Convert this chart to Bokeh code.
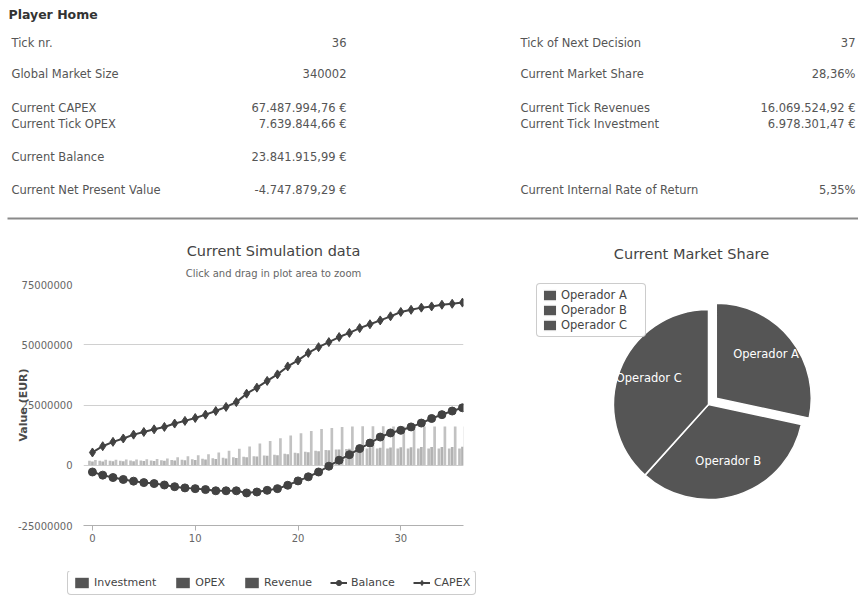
import math
from bokeh.plotting import figure
from bokeh.layouts import column, row
from bokeh.models import (Range1d, FixedTicker, NumeralTickFormatter, Legend, LegendItem,
                          Title, ColumnDataSource)
from bokeh.transform import dodge
from bokeh.core.properties import value
from bokeh.embed import file_html
from bokeh.resources import INLINE

FONT = "DejaVu Sans"
NAN = float("nan")

# ---------------- data ----------------
page_title = "Player Home"
left_labels = ["Tick nr.", "Global Market Size", "Current CAPEX", "Current Tick OPEX",
               "Current Balance", "Current Net Present Value"]
left_values = ["36", "340002", "67.487.994,76 €", "7.639.844,66 €",
               "23.841.915,99 €", "-4.747.879,29 €"]
right_labels = ["Tick of Next Decision", "Current Market Share", "Current Tick Revenues",
                "Current Tick Investment", "Current Internal Rate of Return"]
right_values = ["37", "28,36%", "16.069.524,92 €", "6.978.301,47 €", "5,35%"]

ticks = list(range(37))
investment = [1.9e6, 1.9e6, 1.9e6, 1.9e6, 2.0e6, 2.0e6, 2.0e6, 2.1e6, 2.2e6, 2.3e6,
              2.5e6, 2.7e6, 2.9e6, 3.1e6, 3.3e6, 3.5e6, 3.7e6, 4.0e6, 4.4e6, 4.8e6,
              5.2e6, 5.6e6, 6.0e6, 6.3e6, 6.5e6, 6.7e6, 6.8e6, 6.9e6, 7.0e6, 7.0e6,
              7.0e6, 7.0e6, 7.0e6, 7.0e6, 7.0e6, 7.0e6, 6.98e6]
opex = [1.6e6, 1.6e6, 1.7e6, 1.7e6, 1.7e6, 1.8e6, 1.8e6, 1.9e6, 2.0e6, 2.1e6,
        2.2e6, 2.4e6, 2.6e6, 2.8e6, 3.0e6, 3.3e6, 3.6e6, 3.9e6, 4.2e6, 4.6e6,
        5.0e6, 5.4e6, 5.8e6, 6.2e6, 6.5e6, 6.8e6, 7.0e6, 7.2e6, 7.3e6, 7.4e6,
        7.5e6, 7.5e6, 7.6e6, 7.6e6, 7.6e6, 7.6e6, 7.64e6]
revenue = [2.2e6, 2.3e6, 2.3e6, 2.4e6, 2.4e6, 2.5e6, 2.6e6, 2.8e6, 3.3e6, 3.7e6,
           4.1e6, 4.6e6, 5.3e6, 6.0e6, 6.8e6, 7.8e6, 9.0e6, 10.1e6, 11.2e6, 12.3e6,
           13.3e6, 14.2e6, 15.0e6, 15.5e6, 15.9e6, 16.1e6, 16.2e6, 16.2e6, 16.2e6, 16.1e6,
           16.1e6, 16.1e6, 16.1e6, 16.1e6, 16.1e6, 16.1e6, 16.07e6]
balance = [-2.8e6, -4.1e6, -5.1e6, -5.9e6, -6.6e6, -7.2e6, -7.6e6, -8.2e6, -8.9e6, -9.4e6,
           -9.7e6, -10.1e6, -10.6e6, -10.6e6, -10.6e6, -11.5e6, -11.1e6, -10.4e6, -9.7e6, -8.3e6,
           -6.5e6, -4.8e6, -2.8e6, -0.4e6, 2.1e6, 4.4e6, 6.9e6, 9.2e6, 11.7e6, 13.4e6,
           14.5e6, 15.9e6, 17.5e6, 19.4e6, 21.0e6, 22.5e6, 23.84e6]
capex = [5.3e6, 7.9e6, 9.7e6, 11.1e6, 12.7e6, 13.8e6, 14.9e6, 15.9e6, 17.3e6, 18.4e6,
         19.6e6, 21.0e6, 22.5e6, 24.2e6, 26.2e6, 29.7e6, 32.2e6, 35.0e6, 37.7e6, 41.0e6,
         43.5e6, 46.6e6, 49.0e6, 51.1e6, 53.2e6, 54.9e6, 56.9e6, 58.5e6, 60.1e6, 61.8e6,
         63.6e6, 64.5e6, 65.4e6, 65.9e6, 66.6e6, 67.0e6, 67.49e6]
y_ticks = [-25000000, 0, 25000000, 50000000, 75000000]
x_ticks = [0, 10, 20, 30]
series_names = ["Investment", "OPEX", "Revenue", "Balance", "CAPEX"]

operators = ["Operador A", "Operador B", "Operador C"]
shares = [28.36, 33.30, 38.34]

TXT = "#555555"
DARK = "#424242"
SWATCH = "#555555"

# ---------------- header ----------------
H_W, H_H = 858, 226
hdr = figure(width=H_W, height=H_H, x_range=Range1d(0, H_W), y_range=Range1d(H_H, 0),
             output_backend="svg", toolbar_location=None, min_border=0,
             outline_line_color=None, x_axis_location=None, y_axis_location=None)
hdr.grid.visible = False
left_y = [42, 73, 107, 123, 156, 189]
right_y = [42, 73, 107, 123, 189]
hdr.text(x=[8], y=[14], text=[page_title], text_font=value(FONT), text_font_size="12.5px",
         text_font_style="bold", text_color="#333333", text_baseline="middle")
hdr.text(x=[11] * len(left_labels), y=left_y, text=left_labels, text_font=value(FONT),
         text_font_size="11.5px", text_color=TXT, text_baseline="middle", text_align="left")
hdr.text(x=[346] * len(left_values), y=left_y, text=left_values, text_font=value(FONT),
         text_font_size="11.5px", text_color=TXT, text_baseline="middle", text_align="right")
hdr.text(x=[520] * len(right_labels), y=right_y, text=right_labels, text_font=value(FONT),
         text_font_size="11.5px", text_color=TXT, text_baseline="middle", text_align="left")
hdr.text(x=[855] * len(right_values), y=right_y, text=right_values, text_font=value(FONT),
         text_font_size="11.5px", text_color=TXT, text_baseline="middle", text_align="right")
hdr.segment(x0=[7], y0=[218], x1=[858], y1=[218], line_color="#8a8a8a", line_width=2)

# ---------------- simulation chart ----------------
ROW_H, B_TOP, B_BOT = 345, 58, 46
src = ColumnDataSource(dict(tick=ticks, investment=investment, opex=opex, revenue=revenue,
                            balance=balance, capex=capex))
p = figure(width=480, height=ROW_H, x_range=Range1d(-0.87, 36.1),
           y_range=Range1d(y_ticks[0], y_ticks[-1]),
           output_backend="svg", toolbar_location=None,
           min_border_left=83, min_border_right=17, min_border_top=B_TOP,
           min_border_bottom=B_BOT, outline_line_color=None)
p.add_layout(Title(text="Click and drag in plot area to zoom", align="center",
                   text_font=FONT, text_font_size="10px", text_font_style="normal",
                   text_color="#666666", standoff=12), "above")
p.add_layout(Title(text="Current Simulation data", align="center",
                   text_font=FONT, text_font_size="14.5px", text_font_style="normal",
                   text_color="#444444", standoff=2), "above")

bw = 0.26
p.vbar(x=dodge("tick", -0.29), top="investment", width=bw, source=src,
       fill_color="#bdbdbd", line_color=None)
p.vbar(x=dodge("tick", 0.0), top="opex", width=bw, source=src,
       fill_color="#b2b2b2", line_color=None)
p.vbar(x=dodge("tick", 0.29), top="revenue", width=bw, source=src,
       fill_color="#c2c2c2", line_color=None)
p.line("tick", "balance", source=src, line_color=DARK, line_width=2)
p.scatter("tick", "balance", source=src, marker="circle", size=8,
          fill_color=DARK, line_color=DARK)
p.line("tick", "capex", source=src, line_color=DARK, line_width=2)
p.scatter("tick", "capex", source=src, marker="diamond", size=9,
          fill_color=DARK, line_color=DARK)

p.xgrid.visible = False
p.ygrid.grid_line_color = "#d0d0d0"
p.ygrid.ticker = FixedTicker(ticks=y_ticks)
p.yaxis.ticker = FixedTicker(ticks=y_ticks)
p.yaxis.formatter = NumeralTickFormatter(format="0")
p.yaxis.axis_line_color = None
p.yaxis.major_tick_line_color = None
p.yaxis.minor_tick_line_color = None
p.yaxis.major_label_text_font = FONT
p.yaxis.major_label_text_font_size = "10px"
p.yaxis.major_label_text_color = "#666666"
p.yaxis.major_label_standoff = 5
p.yaxis.axis_label = "Value (EUR)"
p.yaxis.axis_label_text_font = FONT
p.yaxis.axis_label_text_font_size = "11px"
p.yaxis.axis_label_text_font_style = "bold"
p.yaxis.axis_label_text_color = "#4a4a4a"
p.yaxis.axis_label_standoff = -15

p.xaxis.ticker = FixedTicker(ticks=x_ticks)
p.xaxis.axis_line_color = "#b0b0b0"
p.xaxis.major_tick_line_color = "#b0b0b0"
p.xaxis.major_tick_out = 5
p.xaxis.major_tick_in = 0
p.xaxis.minor_tick_line_color = None
p.xaxis.major_label_text_font = FONT
p.xaxis.major_label_text_font_size = "10px"
p.xaxis.major_label_text_color = "#666666"
p.xaxis.major_label_standoff = 3

# ---------------- pie ----------------
P_W = 378
pie = figure(width=P_W, height=ROW_H, x_range=Range1d(0, P_W), y_range=Range1d(0, ROW_H),
             output_backend="svg", toolbar_location=None, min_border=0,
             outline_line_color=None, x_axis_location=None, y_axis_location=None)
pie.grid.visible = False
pie.text(x=[211], y=[ROW_H - 27], text=["Current Market Share"], text_font=value(FONT),
         text_font_size="14.5px", text_color="#444444", text_align="center",
         text_baseline="middle")
cx, cy, R = 228, ROW_H - 178, 95
total = sum(shares)
starts, ends, xs, ys, lx, ly = [], [], [], [], [], []
a = math.pi / 2
for i, s in enumerate(shares):
    sweep = 2 * math.pi * s / total
    st, en = a, a - sweep
    mid = (st + en) / 2
    off = 10 if i == 0 else 0
    ox, oy = cx + off * math.cos(mid), cy + off * math.sin(mid)
    starts.append(st); ends.append(en); xs.append(ox); ys.append(oy)
    lx.append(ox + 64 * math.cos(mid)); ly.append(oy + 64 * math.sin(mid) + 4)
    a = en
psrc = ColumnDataSource(dict(op=operators, share=shares, x=xs, y=ys, start=starts, end=ends,
                             lx=lx, ly=ly))
wr = pie.wedge(x="x", y="y", radius=R, start_angle="start", end_angle="end",
               direction="clock", source=psrc, fill_color="#555555",
               line_color="white", line_width=1.5)
pie.text(x="lx", y="ly", text="op", source=psrc, text_font=value(FONT),
         text_font_size="11.5px", text_color="white", text_align="center",
         text_baseline="middle")
pleg = Legend(items=[LegendItem(label=operators[i], renderers=[wr], index=i) for i in range(3)],
              location=(56, ROW_H - 111), label_text_font=FONT, label_text_font_size="11.5px",
              label_text_color="#444444", glyph_width=17, glyph_height=14,
              label_height=14, label_width=80, spacing=1, padding=4, margin=0,
              label_standoff=3, border_line_color="#999999", border_radius=4)
pie.add_layout(pleg)

# ---------------- chart legend strip ----------------
STRIP_H = 596 - H_H - ROW_H
leg_fig = figure(width=858, height=STRIP_H, x_range=Range1d(0, 858),
                 y_range=Range1d(0, STRIP_H),
                 output_backend="svg", toolbar_location=None, min_border=0,
                 outline_line_color=None, x_axis_location=None, y_axis_location=None)
leg_fig.grid.visible = False
inv_px = leg_fig.vbar(x=[NAN], top=[NAN], width=0.5, fill_color=SWATCH, line_color=None)
opx_px = leg_fig.vbar(x=[NAN], top=[NAN], width=0.5, fill_color=SWATCH, line_color=None)
rev_px = leg_fig.vbar(x=[NAN], top=[NAN], width=0.5, fill_color=SWATCH, line_color=None)
bal_l = leg_fig.line(x=[NAN], y=[NAN], line_color=DARK, line_width=2)
bal_s = leg_fig.scatter(x=[NAN], y=[NAN], marker="circle", size=8, fill_color=DARK,
                        line_color=DARK)
cap_l = leg_fig.line(x=[NAN], y=[NAN], line_color=DARK, line_width=2)
cap_s = leg_fig.scatter(x=[NAN], y=[NAN], marker="diamond", size=9, fill_color=DARK,
                        line_color=DARK)
leg = Legend(items=[LegendItem(label=series_names[0], renderers=[inv_px]),
                    LegendItem(label=series_names[1], renderers=[opx_px]),
                    LegendItem(label=series_names[2], renderers=[rev_px]),
                    LegendItem(label=series_names[3], renderers=[bal_l, bal_s]),
                    LegendItem(label=series_names[4], renderers=[cap_l, cap_s])],
             orientation="horizontal", location=(67, 1),
             label_text_font=FONT, label_text_font_size="11px", label_text_color="#444444",
             glyph_width=17, glyph_height=13, label_standoff=4, spacing=18,
             padding=5, margin=0, border_line_color="#999999", border_line_width=1,
             border_radius=4, background_fill_alpha=1.0, label_height=13)
leg_fig.add_layout(leg)

layout = column(hdr, row(p, column(pie)), leg_fig)
open("out.html", "w").write(file_html(layout, INLINE))
